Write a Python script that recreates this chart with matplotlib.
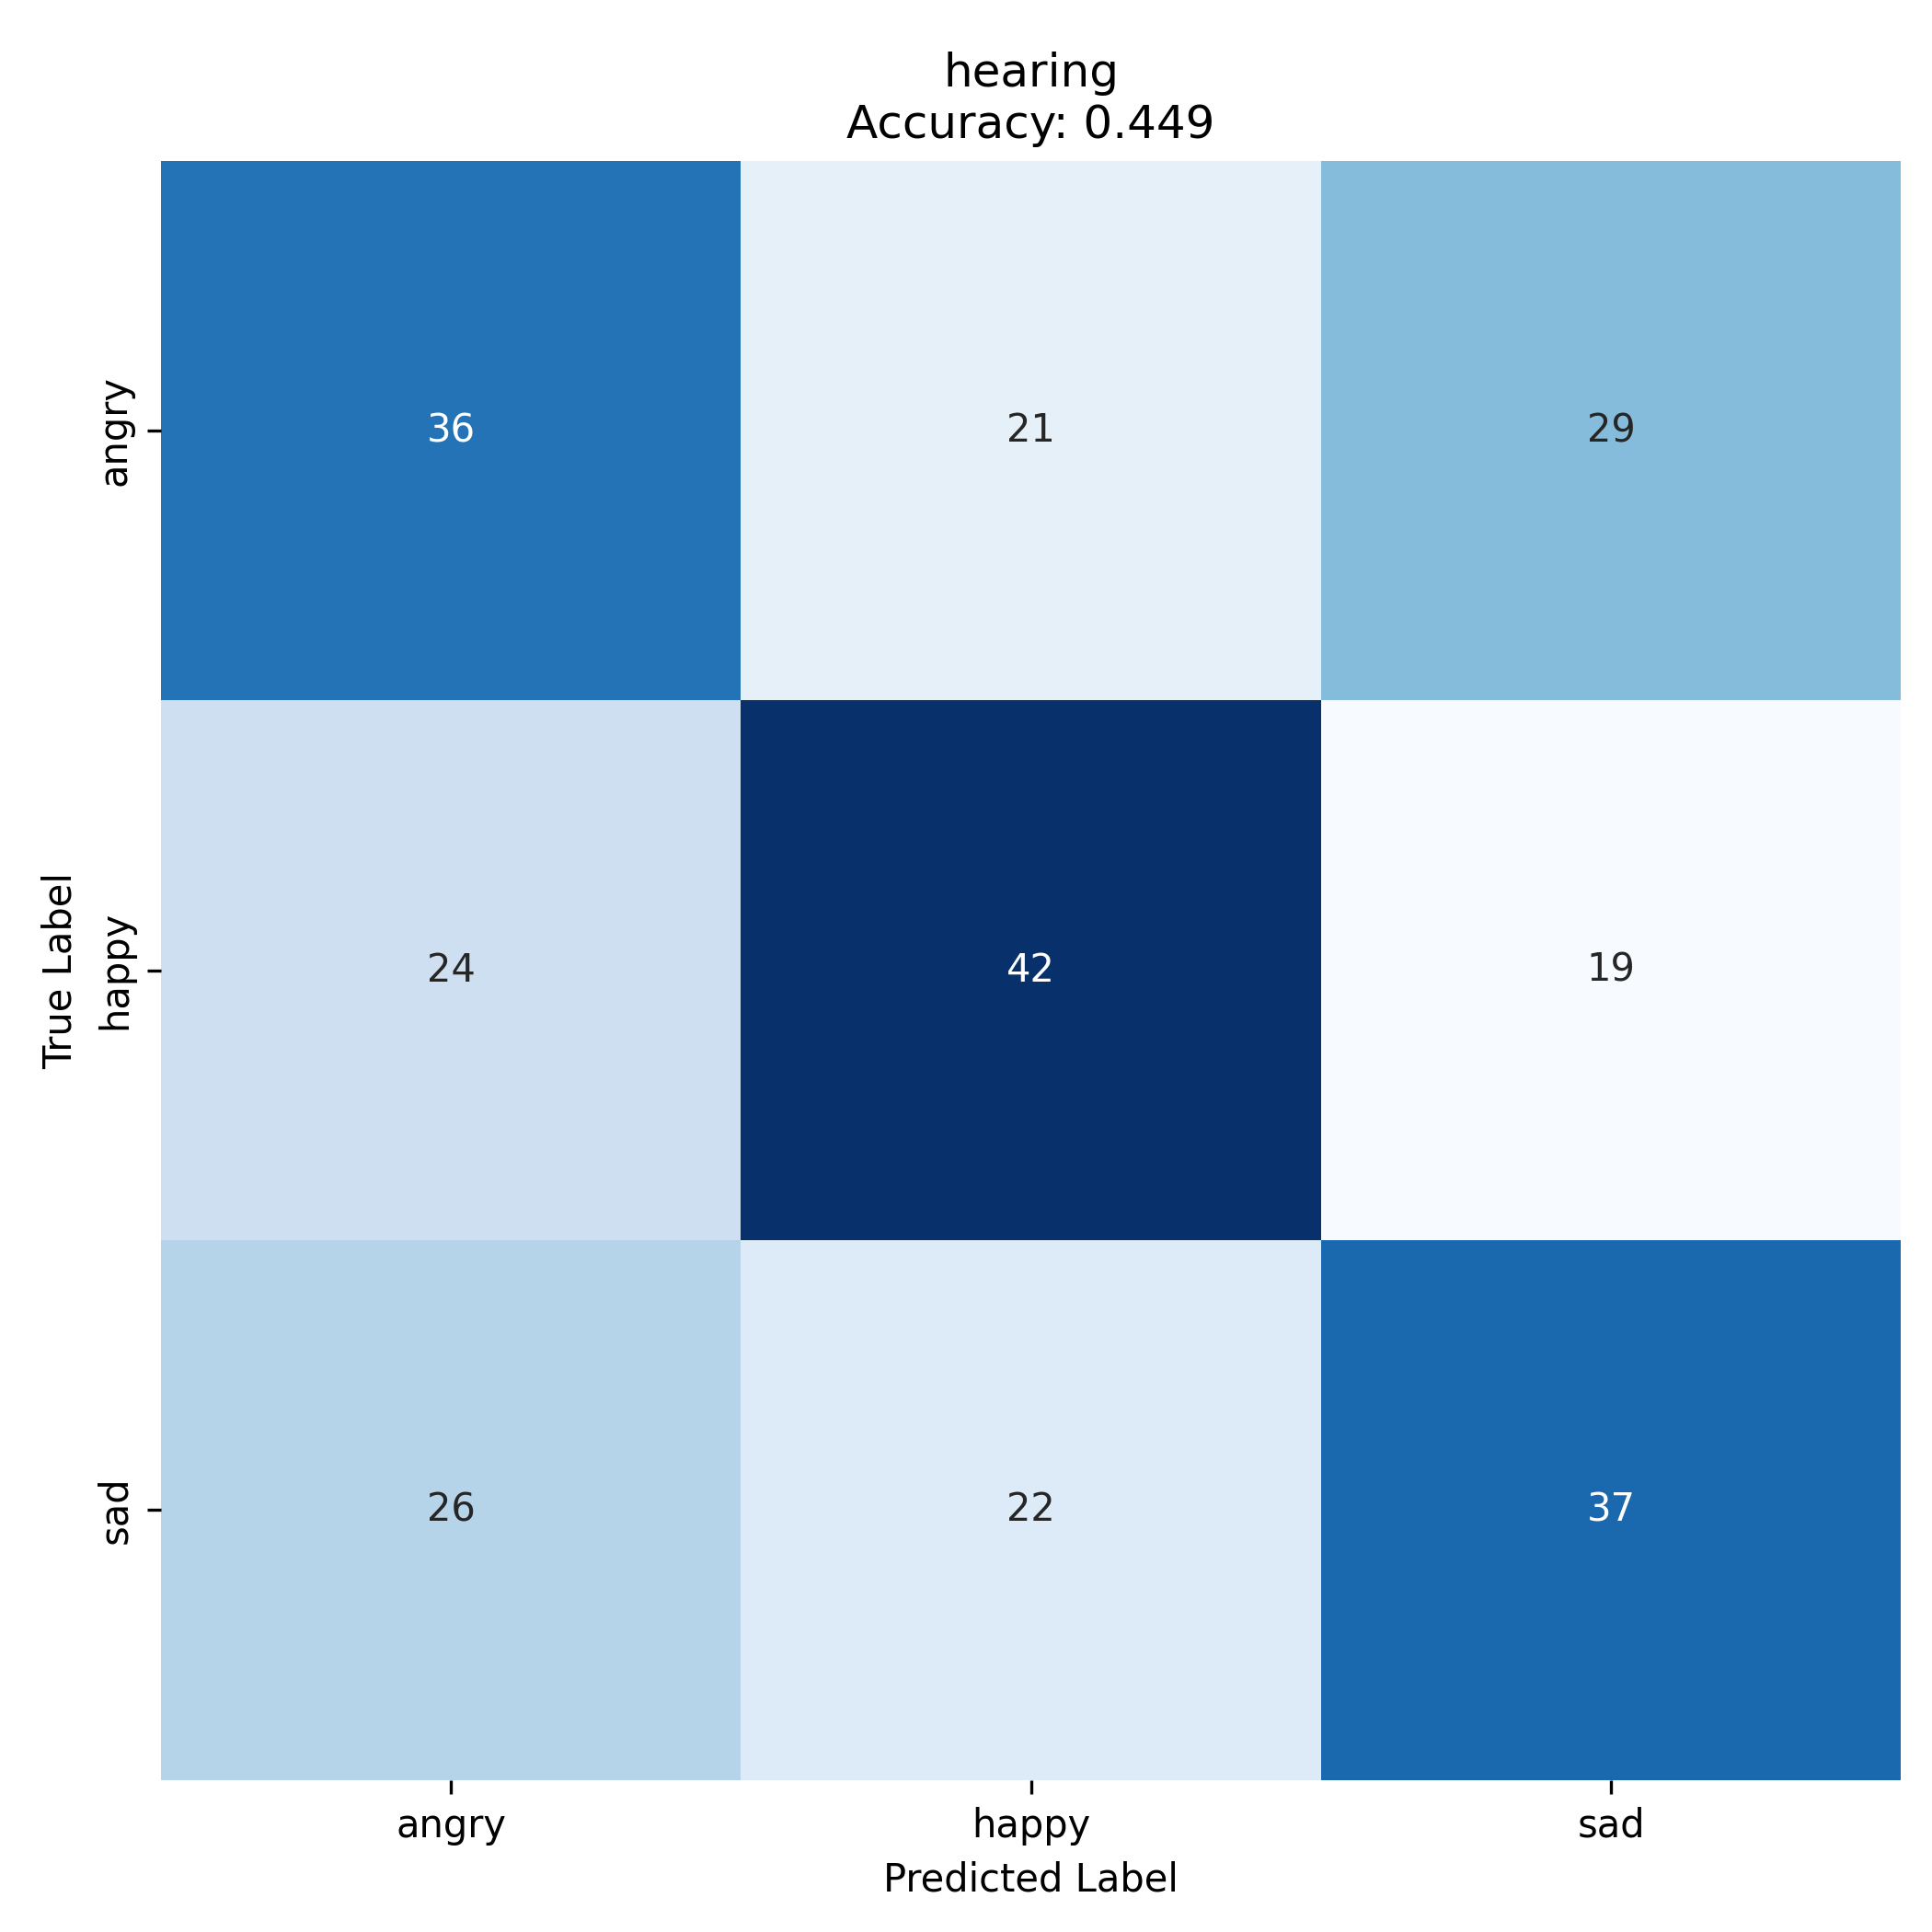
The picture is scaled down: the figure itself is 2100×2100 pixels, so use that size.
import matplotlib
matplotlib.use("Agg")
import matplotlib.pyplot as plt
import seaborn as sns
import numpy as np

labels = ["angry", "happy", "sad"]
cm = np.array([[36, 21, 29],
               [24, 42, 19],
               [26, 22, 37]])
title = "hearing\nAccuracy: 0.449"

fig, ax = plt.subplots(figsize=(7, 7), dpi=300)
sns.heatmap(cm, annot=True, fmt="d", cmap="Blues", cbar=False,
            xticklabels=labels, yticklabels=labels, ax=ax)
ax.set_title(title)
ax.set_xlabel("Predicted Label")
ax.set_ylabel("True Label")
fig.subplots_adjust(left=0.0833, right=0.984, top=0.9167, bottom=0.0788)
fig.savefig("out.png", dpi=300)
